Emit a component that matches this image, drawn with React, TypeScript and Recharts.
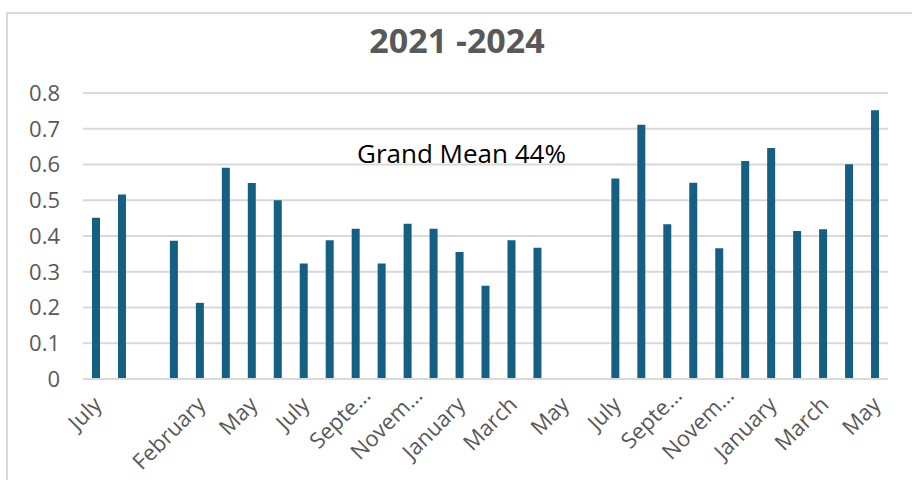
import React from 'react';
import { BarChart, Bar, XAxis, YAxis, CartesianGrid } from 'recharts';

const months = [
  'July', 'August', '', 'January', 'February', 'April', 'May', 'June',
  'July', 'August', 'September', 'October', 'November', 'December',
  'January', 'February', 'March', 'April', 'May', 'June',
  'July', 'August', 'September', 'October', 'November', 'December',
  'January', 'February', 'March', 'April', 'May',
];

const rates = [
  0.451, 0.516, null, 0.387, 0.213, 0.591, 0.548, 0.5,
  0.323, 0.388, 0.42, 0.323, 0.434, 0.42,
  0.355, 0.261, 0.388, 0.367, null, null,
  0.561, 0.711, 0.433, 0.549, 0.366, 0.61,
  0.646, 0.414, 0.419, 0.601, 0.752,
];

const yTicks = [0, 0.1, 0.2, 0.3, 0.4, 0.5, 0.6, 0.7, 0.8];

// labels Excel cut short on the axis
const shortLabels: Record<string, string> = {
  September: 'Septe…',
  November: 'Novem…',
};

const data = months.map((month, i) => ({ month, rate: rates[i] }));

const BAR = '#156082';
const GRID = '#d9d9d9';
const TEXT = '#595959';
const FONT = '"Open Sans", sans-serif';

const MonthTick = (props: any) => {
  const { x, y, payload } = props;
  const short = shortLabels[payload.value];
  const label = short ?? payload.value;
  const ax = x + 7;
  const ay = y + 19;
  return (
    <text
      x={ax}
      y={ay}
      dx={short ? 13 : 0}
      transform={`rotate(-45, ${ax}, ${ay})`}
      textAnchor="end"
      fill={TEXT}
      fontSize={22}
      fontFamily={FONT}
    >
      {label}
    </text>
  );
};

export default function App() {
  return (
    <div style={{ position: 'absolute', left: 0, top: 0, width: 912, height: 480, background: '#fff' }}>
      <BarChart
        width={912}
        height={480}
        data={data}
        margin={{ top: 93, right: 24, left: 0, bottom: 0 }}
      >
        <CartesianGrid horizontal vertical={false} stroke={GRID} strokeWidth={2} />
        <XAxis
          dataKey="month"
          interval={1}
          height={101}
          tickLine={false}
          axisLine={{ stroke: GRID, strokeWidth: 2 }}
          tick={<MonthTick />}
        />
        <YAxis
          width={83}
          domain={[0, 0.8]}
          ticks={yTicks}
          axisLine={false}
          tickLine={false}
          tickMargin={17}
          tickFormatter={(v: number) => (v === 0 ? '0' : v.toFixed(1))}
          tick={{ fill: TEXT, fontSize: 22, fontFamily: FONT }}
        />
        <Bar dataKey="rate" fill={BAR} barSize={8} isAnimationActive={false} />
      </BarChart>
      <svg
        width={912}
        height={480}
        style={{ position: 'absolute', left: 0, top: 0, pointerEvents: 'none' }}
      >
        <line x1={6} y1={13} x2={912} y2={13} stroke={GRID} strokeWidth={2} />
        <line x1={7} y1={12} x2={7} y2={480} stroke={GRID} strokeWidth={2} />
        <text x={457} y={53} textAnchor="middle" fill={TEXT} fontSize={34} fontWeight={700} fontFamily={FONT}>
          2021 -2024
        </text>
        <text x={357} y={163} fill="#000" fontSize={26} fontFamily={FONT}>
          Grand Mean 44%
        </text>
      </svg>
    </div>
  );
}
